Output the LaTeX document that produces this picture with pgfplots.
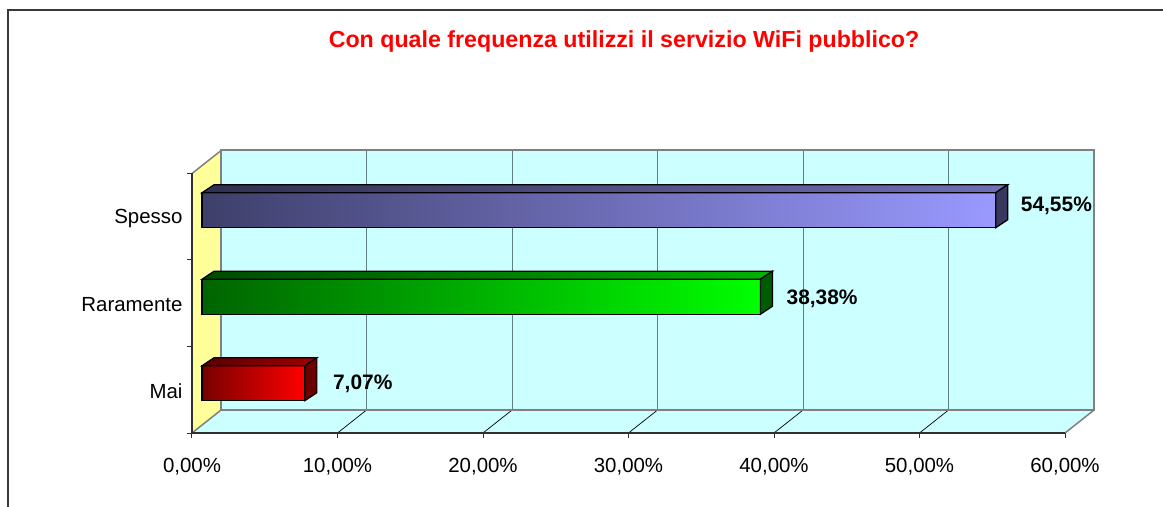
\documentclass[border=0pt]{standalone}
\usepackage{pgfplots}
\pgfplotsset{compat=1.18}
\usepackage{fontspec}
\setmainfont{Liberation Sans}

\definecolor{framec}{HTML}{383838}
\definecolor{axisc}{HTML}{303030}
\definecolor{wallc}{HTML}{CCFFFF}
\definecolor{yellowc}{HTML}{FFFF99}
\definecolor{borderc}{HTML}{808080}
\definecolor{gridc}{HTML}{5F7F7F}
\definecolor{spL}{HTML}{3F3F6B}
\definecolor{spR}{HTML}{9999FF}
\definecolor{spTL}{HTML}{30304F}
\definecolor{spTR}{HTML}{7070B8}
\definecolor{spS}{HTML}{38385E}
\definecolor{raL}{HTML}{006400}
\definecolor{raR}{HTML}{00FF00}
\definecolor{raTL}{HTML}{004A00}
\definecolor{raTR}{HTML}{00B400}
\definecolor{raS}{HTML}{005C00}
\definecolor{maL}{HTML}{780000}
\definecolor{maR}{HTML}{FF0000}
\definecolor{maTL}{HTML}{580000}
\definecolor{maTR}{HTML}{A00000}
\definecolor{maS}{HTML}{6A0000}

% 3D faces of a bar: #1 value, #2 category position, #3/#4 top colours, #5 side colour
\newcommand{\barfaces}[5]{%
  \filldraw[draw=black, line width=1.2bp, left color=#3, right color=#4]
    ([yshift=17.5bp]axis cs:0,#2) -- ([yshift=17.5bp]axis cs:#1,#2)
    -- ([xshift=12bp,yshift=25.5bp]axis cs:#1,#2)
    -- ([xshift=12bp,yshift=25.5bp]axis cs:0,#2) -- cycle;
  \filldraw[draw=black, line width=1.2bp, fill=#5]
    ([yshift=-17.5bp]axis cs:#1,#2) -- ([yshift=17.5bp]axis cs:#1,#2)
    -- ([xshift=12bp,yshift=25.5bp]axis cs:#1,#2)
    -- ([xshift=12bp,yshift=-9.5bp]axis cs:#1,#2) -- cycle;
}

\begin{document}
\begin{tikzpicture}
% axis box lower-left corner is the picture origin; page spans 1163bp x 507bp
\useasboundingbox (-192bp,-74bp) rectangle (971bp,433bp);
\fill[white] (-192bp,-74bp) rectangle (971bp,433bp);
\draw[framec, line width=2bp] (-184bp,-90bp) -- (-184bp,422.5bp) -- (1000bp,422.5bp);

\node[anchor=base, text=red, font=\bfseries\fontsize{23.3}{23.3}\selectfont]
  at (432bp,385.5bp) {Con quale frequenza utilizzi il servizio WiFi pubblico?};

% ---- frame axis: walls, floor, ticks, category labels
\begin{axis}[
  x=14.55bp, y=86.5bp,
  xmin=0, xmax=60, ymin=0, ymax=3,
  clip=false, axis on top,
  axis x line*=bottom, axis y line*=left,
  axis line style={axisc, line width=1.4bp, -},
  xtick={0,10,20,30,40,50,60},
  xticklabels={{0,00\%},{10,00\%},{20,00\%},{30,00\%},{40,00\%},{50,00\%},{60,00\%}},
  ytick={0.5,1.5,2.5},
  yticklabels={Mai,Raramente,Spesso},
  minor ytick={0,1,2,3},
  tick align=outside,
  major tick length=5bp, minor tick length=5bp,
  tick style={axisc, line width=1bp},
  major y tick style={draw=none},
  ticklabel style={font=\fontsize{20.5}{20.5}\selectfont, text=black},
  xticklabel style={yshift=-17bp},
  yticklabel style={xshift=-1bp, yshift=-1.5bp},
]
\fill[wallc] (axis cs:2,0.266) rectangle (axis cs:62,3.266);
\fill[wallc] (axis cs:0,0) -- (axis cs:60,0) -- (axis cs:62,0.266) -- (axis cs:2,0.266) -- cycle;
\fill[yellowc] (axis cs:0,0) -- (axis cs:2,0.266) -- (axis cs:2,3.266) -- (axis cs:0,3) -- cycle;
\draw[gridc, line width=1.2bp] (axis cs:12,0.266) -- (axis cs:12,3.266);
\draw[gridc, line width=1.2bp] (axis cs:22,0.266) -- (axis cs:22,3.266);
\draw[gridc, line width=1.2bp] (axis cs:32,0.266) -- (axis cs:32,3.266);
\draw[gridc, line width=1.2bp] (axis cs:42,0.266) -- (axis cs:42,3.266);
\draw[gridc, line width=1.2bp] (axis cs:52,0.266) -- (axis cs:52,3.266);
\draw[black, line width=0.7bp] (axis cs:10,0) -- (axis cs:12,0.266);
\draw[black, line width=0.7bp] (axis cs:20,0) -- (axis cs:22,0.266);
\draw[black, line width=0.7bp] (axis cs:30,0) -- (axis cs:32,0.266);
\draw[black, line width=0.7bp] (axis cs:40,0) -- (axis cs:42,0.266);
\draw[black, line width=0.7bp] (axis cs:50,0) -- (axis cs:52,0.266);
\draw[borderc, line width=2bp] (axis cs:2,0.266) rectangle (axis cs:62,3.266);
\draw[borderc, line width=1.5bp] (axis cs:0,3) -- (axis cs:2,3.266);
\draw[borderc, line width=1.5bp] (axis cs:0,0) -- (axis cs:2,0.266);
\draw[borderc, line width=1.5bp] (axis cs:60,0) -- (axis cs:62,0.266);
\end{axis}

% ---- bars (front face sits a little behind the front plane)
\begin{scope}[xshift=10bp, yshift=6.5bp]
\begin{axis}[
  x=14.55bp, y=86.5bp,
  xmin=0, xmax=60, ymin=0, ymax=3,
  hide axis, clip=false,
]
\addplot[xbar, bar width=35bp, bar shift=0pt, draw=black, line width=1.2bp,
  left color=spL, right color=spR] coordinates {(54.55,2.5)};
\addplot[xbar, bar width=35bp, bar shift=0pt, draw=black, line width=1.2bp,
  left color=raL, right color=raR] coordinates {(38.38,1.5)};
\addplot[xbar, bar width=35bp, bar shift=0pt, draw=black, line width=1.2bp,
  left color=maL, right color=maR] coordinates {(7.07,0.5)};
\barfaces{54.55}{2.5}{spTL}{spTR}{spS}
\barfaces{38.38}{1.5}{raTL}{raTR}{raS}
\barfaces{7.07}{0.5}{maTL}{maTR}{maS}
\pgfplotsset{lbl/.style={draw=none, mark=none, point meta=x,
  nodes near coords={\pgfmathprintnumber[fixed,fixed zerofill,precision=2,use comma,assume math mode=true]{\pgfplotspointmeta}\%},
  every node near coord/.append style={anchor=west, inner sep=0pt, text=black,
    font=\bfseries\fontsize{21}{21}\selectfont}}}
\addplot[lbl, every node near coord/.append style={xshift=25bp, yshift=4bp}] coordinates {(54.55,2.5)};
\addplot[lbl, every node near coord/.append style={xshift=26bp, yshift=-2bp}] coordinates {(38.38,1.5)};
\addplot[lbl, every node near coord/.append style={xshift=28bp, yshift=-1bp}] coordinates {(7.07,0.5)};
\end{axis}
\end{scope}
\end{tikzpicture}
\end{document}
